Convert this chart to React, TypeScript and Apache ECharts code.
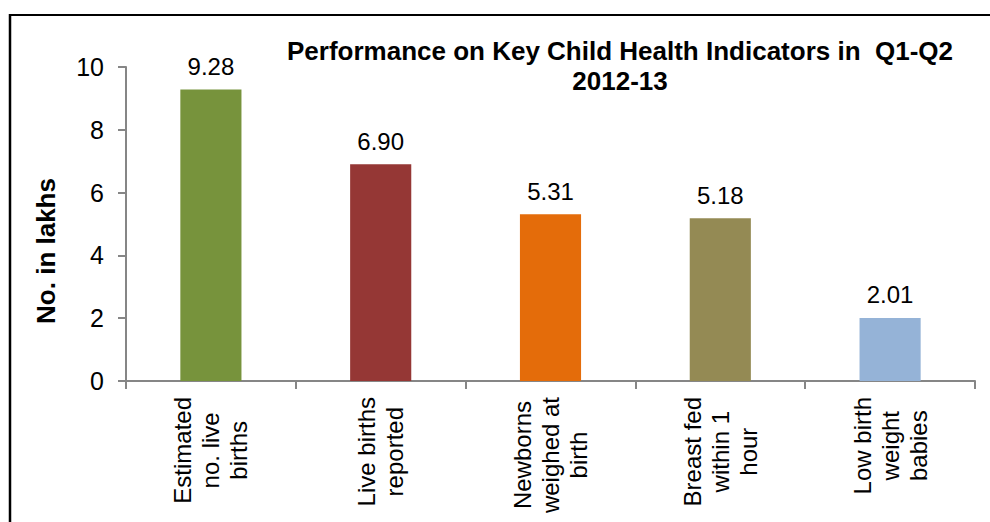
import React, { useEffect, useRef } from "react";
import * as echarts from "echarts";

const categories = [
  "Estimated\nno. live\nbirths",
  "Live births\nreported",
  "Newborns\nweighed at\nbirth",
  "Breast fed\nwithin 1\nhour",
  "Low birth\nweight\nbabies",
];
const values = [9.28, 6.9, 5.31, 5.18, 2.01];
const barColors = ["#77933C", "#953735", "#E46C0A", "#948A54", "#95B3D7"];
const yTicks = { min: 0, max: 10, interval: 2 };
const titleLines = ["Performance on Key Child Health Indicators in  Q1-Q2", "2012-13"];
const yAxisTitle = "No. in lakhs";

const FONT = "'Liberation Sans', Arial, sans-serif";

export default function App() {
  const ref = useRef<HTMLDivElement>(null);
  useEffect(() => {
    const chart = echarts.init(ref.current!, null, { renderer: "svg" });
    const titleStyle = {
      fontFamily: FONT,
      fontWeight: "bold",
      fontSize: 26,
      lineHeight: 26,
      color: "#000000",
    };
    chart.setOption({
      animation: false,
      backgroundColor: "#ffffff",
      title: [
        {
          text: titleLines[0],
          left: 620,
          top: 38,
          textAlign: "center",
          padding: 0,
          textStyle: titleStyle,
        },
        {
          text: titleLines[1],
          left: 620,
          top: 68,
          textAlign: "center",
          padding: 0,
          textStyle: titleStyle,
        },
      ],
      grid: { left: 126, right: 15, top: 67, bottom: 141, containLabel: false },
      xAxis: {
        type: "category",
        data: categories,
        axisLine: { lineStyle: { color: "#868686", width: 2 } },
        axisTick: { show: true, length: 8, lineStyle: { color: "#868686", width: 2 } },
        axisLabel: {
          rotate: 90,
          margin: 16,
          interval: 0,
          fontFamily: FONT,
          fontSize: 24,
          color: "#000000",
          formatter: (v: string) =>
            v
              .split("\n")
              .map((s) => "{c|" + s + "}")
              .join("\n"),
          rich: {
            c: {
              align: "center",
              fontFamily: FONT,
              fontSize: 24,
              lineHeight: 28,
              color: "#000000",
            },
          },
        },
      },
      yAxis: {
        type: "value",
        min: yTicks.min,
        max: yTicks.max,
        interval: yTicks.interval,
        splitLine: { show: false },
        axisLine: { show: true, lineStyle: { color: "#868686", width: 2 } },
        axisTick: { show: true, length: 8, lineStyle: { color: "#868686", width: 2 } },
        axisLabel: {
          margin: 22,
          fontFamily: FONT,
          fontSize: 25,
          color: "#000000",
        },
      },
      series: [
        {
          type: "bar",
          barWidth: "36%",
          data: values.map((v, i) => ({ value: v, itemStyle: { color: barColors[i] } })),
          label: {
            show: true,
            position: "top",
            distance: 11,
            fontFamily: FONT,
            fontSize: 24,
            color: "#000000",
            formatter: (p: any) => Number(p.value).toFixed(2),
          },
        },
      ],
      graphic: [
        {
          type: "line",
          shape: { x1: 9, y1: 15, x2: 990, y2: 15 },
          style: { stroke: "#000000", lineWidth: 2 },
        },
        {
          type: "line",
          shape: { x1: 10, y1: 14, x2: 10, y2: 522 },
          style: { stroke: "#000000", lineWidth: 2.5 },
        },
        {
          type: "text",
          x: 46,
          y: 251,
          rotation: Math.PI / 2,
          style: {
            text: yAxisTitle,
            fontFamily: FONT,
            fontWeight: "bold",
            fontSize: 26,
            fill: "#000000",
            align: "center",
            verticalAlign: "middle",
          },
        },
      ],
    });
    return () => chart.dispose();
  }, []);
  return (
    <div
      ref={ref}
      style={{ position: "fixed", left: 0, top: 0, width: 990, height: 522 }}
    />
  );
}
